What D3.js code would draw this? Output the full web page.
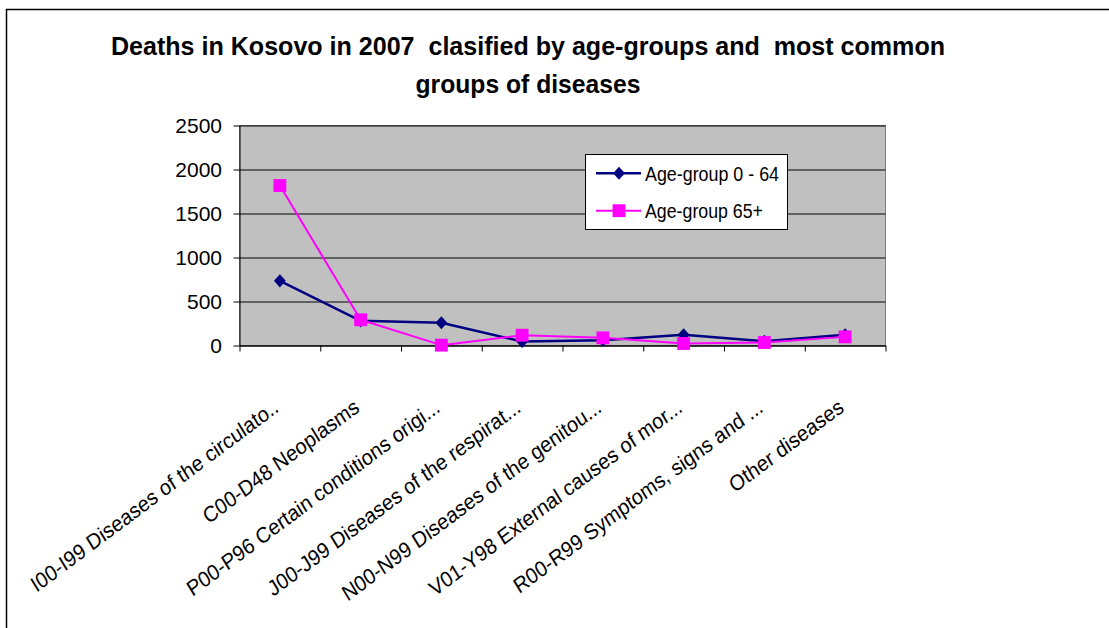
<!DOCTYPE html>
<html>
<head>
<meta charset="utf-8">
<script src="https://cdn.jsdelivr.net/npm/d3@7"></script>
<style>
  html, body { margin: 0; padding: 0; background: #fff; }
  svg { display: block; }
  text { font-family: "Liberation Sans", Arial, Helvetica, sans-serif; }
</style>
</head>
<body>
<svg id="chart" width="1109" height="628"></svg>
<script>
// ---- data ----
const titleLines = ["Deaths in Kosovo in 2007  clasified by age-groups and  most common", "groups of diseases"];
const categories = [
  "I00-I99 Diseases of the circulato..",
  "C00-D48 Neoplasms",
  "P00-P96 Certain conditions origi...",
  "J00-J99 Diseases of the respirat...",
  "N00-N99 Diseases of the genitou...",
  "V01-Y98 External causes of mor...",
  "R00-R99 Symptoms, signs and ...",
  "Other diseases"
];
const seriesNames = ["Age-group 0 - 64", "Age-group 65+"];
const age0to64 = [735, 280, 258, 45, 60, 121, 49, 121];
const age65plus = [1818, 292, 4, 117, 87, 23, 34, 98];
const yTicks = [0, 500, 1000, 1500, 2000, 2500];

// ---- layout ----
const svg = d3.select("#chart");
const plot = { left: 239.5, right: 885.5, top: 125.5, bottom: 345.5 };
const navy = "#000080", pink = "#FF00FF";
const fontFam = "'Liberation Sans', Arial, Helvetica, sans-serif";

// outer chart border (extends beyond the window at right/bottom)
svg.append("rect").attr("x", 6.5).attr("y", 9.5).attr("width", 1200).attr("height", 700)
  .attr("fill", "#fff").attr("stroke", "#000").attr("stroke-width", 1.5);

// title
svg.selectAll("text.title").data(titleLines).join("text")
  .attr("class", "title")
  .attr("x", 528).attr("y", (d, i) => i === 0 ? 55 : 93)
  .attr("text-anchor", "middle")
  .style("font-size", "26px").style("font-weight", "bold")
  .style("white-space", "pre")
  .attr("textLength", (d, i) => i === 0 ? 834 : 225)
  .attr("lengthAdjust", "spacingAndGlyphs")
  .text(d => d);

// scales
const x = d3.scaleBand().domain(categories).range([plot.left, plot.right]);
const xEdge = d3.scaleLinear().domain([0, categories.length]).range([plot.left, plot.right]);
const y = d3.scaleLinear().domain([0, 2500]).range([plot.bottom, plot.top]);
const cx = c => x(c) + x.bandwidth() / 2;

// plot area
svg.append("rect").attr("x", plot.left).attr("y", plot.top)
  .attr("width", plot.right - plot.left).attr("height", plot.bottom - plot.top)
  .attr("fill", "#C0C0C0").attr("stroke", "#808080").attr("stroke-width", 1);

// gridlines
const grid = svg.append("g").attr("transform", `translate(${plot.left},0)`)
  .call(d3.axisLeft(y).tickValues(yTicks).tickSize(-(plot.right - plot.left)).tickFormat(""));
grid.select(".domain").remove();
grid.selectAll("line").attr("stroke", "#000").attr("stroke-width", 1);

// y axis
const yAxis = svg.append("g").attr("transform", `translate(${plot.left},0)`)
  .call(d3.axisLeft(y).tickValues(yTicks).tickFormat(d3.format("d"))
    .tickSize(6).tickSizeOuter(0).tickPadding(11.5));
yAxis.attr("font-size", null).attr("font-family", null);
yAxis.select(".domain").attr("stroke", "#000");
yAxis.selectAll("line").attr("stroke", "#000");
yAxis.selectAll("text")
  .style("font-size", "21px").style("font-family", fontFam).attr("fill", "#000");

// x axis (ticks at category boundaries)
const xAxis = svg.append("g").attr("transform", `translate(0,${plot.bottom})`)
  .call(d3.axisBottom(xEdge).tickValues(d3.range(0, categories.length + 1)).tickSize(6).tickSizeOuter(0).tickFormat(""));
xAxis.select(".domain").attr("stroke", "#000");
xAxis.selectAll("line").attr("stroke", "#000");

// category labels
svg.append("g").selectAll("text").data(categories).join("text")
  .attr("transform", d => `translate(${cx(d)},${plot.bottom + 65}) scale(0.9,1) rotate(-34)`)
  .attr("text-anchor", "end")
  .style("font-size", "22px").attr("fill", "#000")
  .text(d => d);

// markers
const diamond = {
  draw(ctx, size) {
    const r = Math.sqrt(size / 2);
    ctx.moveTo(0, -r * 1.05);
    ctx.lineTo(r * 0.95, 0);
    ctx.lineTo(0, r * 1.05);
    ctx.lineTo(-r * 0.95, 0);
    ctx.closePath();
  }
};
const series = [
  { name: seriesNames[0], values: age0to64, color: navy, width: 2.5, symbol: d3.symbol(diamond, 78) },
  { name: seriesNames[1], values: age65plus, color: pink, width: 2, symbol: d3.symbol(d3.symbolSquare, 165) }
];

const line = d3.line().x((d, i) => cx(categories[i])).y(d => y(d));
series.forEach(s => {
  const g = svg.append("g");
  g.append("path").attr("d", line(s.values)).attr("fill", "none")
    .attr("stroke", s.color).attr("stroke-width", s.width).attr("stroke-linejoin", "round");
  g.selectAll("path.m").data(s.values).join("path").attr("class", "m")
    .attr("transform", (d, i) => `translate(${cx(categories[i])},${y(d)})`)
    .attr("d", s.symbol()).attr("fill", s.color);
});

// legend
const lg = svg.append("g");
lg.append("rect").attr("x", 585.5).attr("y", 154.5).attr("width", 202).attr("height", 75)
  .attr("fill", "#fff").attr("stroke", "#000").attr("stroke-width", 1);
const rowsY = [173.3, 210.7];
const textLens = [134, 118];
series.forEach((s, i) => {
  const ry = rowsY[i];
  lg.append("line").attr("x1", 596).attr("x2", 641).attr("y1", ry).attr("y2", ry)
    .attr("stroke", s.color).attr("stroke-width", s.width);
  lg.append("path").attr("transform", `translate(619,${ry})`).attr("d", s.symbol()).attr("fill", s.color);
  lg.append("text").attr("x", 645).attr("y", ry + 7.2)
    .style("font-size", "20px").attr("fill", "#000")
    .attr("textLength", textLens[i]).attr("lengthAdjust", "spacingAndGlyphs")
    .text(s.name);
});
</script>
</body>
</html>
